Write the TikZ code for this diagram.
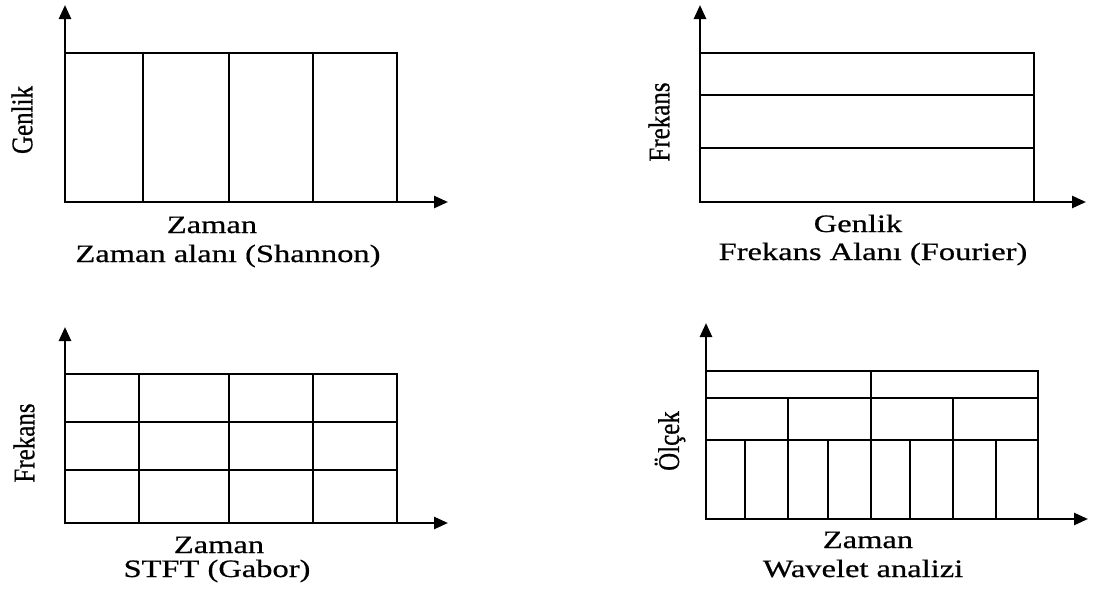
\documentclass[tikz,border=0pt]{standalone}
\usepackage{fontspec}
\setmainfont{Liberation Serif}[FakeStretch=1.3,FakeBold=0.6]
\newfontfamily\vfont{Liberation Serif}[FakeBold=0.6]
\usetikzlibrary{arrows.meta}
\tikzset{
  axis/.style={line width=2.6pt,-{Triangle[length=14pt,width=12pt]}},
  gline/.style={line width=2.6pt},
  lbl/.style={anchor=base,inner sep=0pt,font=\fontsize{25}{28}\selectfont},
  vlbl/.style={rotate=90,anchor=center,inner sep=0pt,font=\vfont\fontsize{25}{28}\selectfont}
}
\begin{document}
\begin{tikzpicture}[x=1pt,y=-1pt]
\useasboundingbox (0,0) rectangle (1096,597);
\fill[white] (0,0) rectangle (1096,597);
% ---------- Panel 1: Shannon ----------
\coordinate (o1) at (65,202);
\coordinate (y1) at (65,5);
\coordinate (x1) at (448,202);
\draw[gline] (65,53) rectangle (397,202);
\foreach \x in {143,229,313} \draw[gline] (\x,53) -- (\x,202);
\draw[axis] (o1) -- (y1);
\draw[axis] (o1) -- (x1);
\node[lbl] (t1a) at (212,233) {Zaman};
\node[lbl] (t1b) at (228,262) {Zaman alanı (Shannon)};
\node[vlbl] (v1) at (22,120) {\scalebox{1}[1.2]{Genlik}};
% ---------- Panel 2: Fourier ----------
\coordinate (o2) at (700,202);
\coordinate (y2) at (700,5);
\coordinate (x2) at (1086,202);
\draw[gline] (700,53) rectangle (1034,202);
\foreach \y in {95,148} \draw[gline] (700,\y) -- (1034,\y);
\draw[axis] (o2) -- (y2);
\draw[axis] (o2) -- (x2);
\node[lbl] (t2a) at (858,232) {Genlik};
\node[lbl] (t2b) at (873,260) {Frekans Alanı (Fourier)};
\node[vlbl] (v2) at (659,122) {\scalebox{1}[1.2]{Frekans}};
% ---------- Panel 3: STFT ----------
\coordinate (o3) at (65,523);
\coordinate (y3) at (65,327);
\coordinate (x3) at (448,523);
\draw[gline] (65,374) rectangle (397,523);
\foreach \y in {422,470} \draw[gline] (65,\y) -- (397,\y);
\foreach \x in {139,229,313} \draw[gline] (\x,374) -- (\x,523);
\draw[axis] (o3) -- (y3);
\draw[axis] (o3) -- (x3);
\node[lbl] (t3a) at (219,553) {Zaman};
\node[lbl] (t3b) at (217,577) {STFT (Gabor)};
\node[vlbl] (v3) at (24,443) {\scalebox{1}[1.2]{Frekans}};
% ---------- Panel 4: Wavelet ----------
\coordinate (o4) at (706,519);
\coordinate (y4) at (706,323);
\coordinate (x4) at (1088,519);
\draw[gline] (706,371) rectangle (1038,519);
\foreach \y in {398,440} \draw[gline] (706,\y) -- (1038,\y);
\draw[gline] (871,371) -- (871,519);
\foreach \x in {788,953} \draw[gline] (\x,398) -- (\x,519);
\foreach \x in {745,828,910,996} \draw[gline] (\x,440) -- (\x,519);
\draw[axis] (o4) -- (y4);
\draw[axis] (o4) -- (x4);
\node[lbl] (t4a) at (868,548) {Zaman};
\node[lbl] (t4b) at (863,577) {Wavelet analizi};
\node[vlbl] (v4) at (670,441) {\scalebox{1}[1.2]{Ölçek}};
\end{tikzpicture}
\end{document}
